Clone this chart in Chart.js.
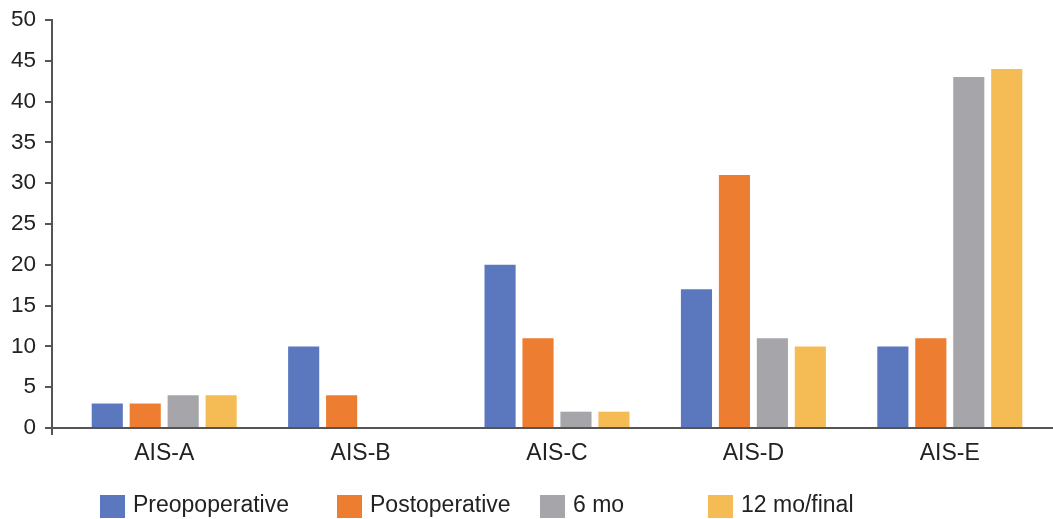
<!DOCTYPE html>
<html>
<head>
<meta charset="utf-8">
<style>
  html, body { margin: 0; padding: 0; background: #ffffff; }
  #wrap { width: 1053px; height: 519px; }
</style>
<script src="https://cdn.jsdelivr.net/npm/chart.js@4/dist/chart.umd.min.js"></script>
</head>
<body>
<div id="wrap"><canvas id="c" width="1053" height="519"></canvas></div>
<script>
// ---- Data ----
const categories = ['AIS-A', 'AIS-B', 'AIS-C', 'AIS-D', 'AIS-E'];
const seriesNames = ['Preopoperative', 'Postoperative', '6 mo', '12 mo/final'];
const preoperative = [3, 10, 20, 17, 10];
const postoperative = [3, 4, 11, 31, 11];
const sixMonths = [4, 0, 2, 11, 43];
const twelveMonths = [4, 0, 2, 10, 44];
const yTickValues = [0, 5, 10, 15, 20, 25, 30, 35, 40, 45, 50];

// ---- Styles ----
const colors = ['#5b77bd', '#ed7d31', '#a6a5aa', '#f5bb55'];
const textColor = '#222222';
const axisColor = '#555555';
const fontFamily = '"Liberation Sans", Arial, Helvetica, sans-serif';
const legendBoxX = [100, 337, 540, 708];

const seriesValues = [preoperative, postoperative, sixMonths, twelveMonths];

const axesPlugin = {
  id: 'excelAxes',
  afterDatasetsDraw(chart) {
    const ctx = chart.ctx;
    const y = chart.scales.y;
    const area = chart.chartArea;
    const axisX = 52;
    ctx.save();
    ctx.strokeStyle = axisColor;
    ctx.lineWidth = 2;
    ctx.beginPath();
    ctx.moveTo(axisX, y.getPixelForValue(yTickValues[yTickValues.length - 1]) - 1);
    ctx.lineTo(axisX, area.bottom + 7);
    ctx.stroke();
    yTickValues.forEach(v => {
      const py = Math.round(y.getPixelForValue(v));
      ctx.beginPath();
      ctx.moveTo(45, py);
      ctx.lineTo(axisX, py);
      ctx.stroke();
    });
    ctx.beginPath();
    ctx.moveTo(axisX - 1, Math.round(y.getPixelForValue(0)));
    ctx.lineTo(1053, Math.round(y.getPixelForValue(0)));
    ctx.stroke();
    ctx.restore();
  },
  afterDraw(chart) {
    const ctx = chart.ctx;
    ctx.save();
    ctx.font = '23px ' + fontFamily;
    ctx.textBaseline = 'middle';
    ctx.textAlign = 'left';
    chart.data.datasets.forEach((ds, i) => {
      const bx = legendBoxX[i];
      ctx.fillStyle = ds.backgroundColor;
      ctx.fillRect(bx, 495, 25, 23);
      ctx.fillStyle = textColor;
      ctx.fillText(ds.label, bx + 33, 506);
    });
    ctx.restore();
  }
};

new Chart(document.getElementById('c'), {
  type: 'bar',
  data: {
    labels: categories,
    datasets: seriesNames.map((name, i) => ({
      label: name,
      data: seriesValues[i],
      backgroundColor: colors[i],
      borderWidth: 0,
      categoryPercentage: 0.773,
      barPercentage: 0.82
    }))
  },
  options: {
    responsive: false,
    animation: false,
    layout: { padding: { top: 20, right: 5, left: 0, bottom: 0 } },
    plugins: {
      legend: { display: false },
      tooltip: { enabled: false }
    },
    scales: {
      x: {
        grid: { display: false, drawTicks: false },
        border: { display: false },
        ticks: {
          color: textColor,
          font: { family: fontFamily, size: 23 },
          padding: 12,
          maxRotation: 0
        },
        afterFit(scale) { scale.height = 91; }
      },
      y: {
        min: yTickValues[0],
        max: yTickValues[yTickValues.length - 1],
        grid: { display: false, drawTicks: true, tickLength: 30 },
        border: { display: false },
        ticks: {
          stepSize: yTickValues[1] - yTickValues[0],
          color: textColor,
          font: { family: fontFamily, size: 22.5 },
          padding: 0
        },
        afterFit(scale) { scale.width = 66; }
      }
    }
  },
  plugins: [axesPlugin]
});
</script>
</body>
</html>
